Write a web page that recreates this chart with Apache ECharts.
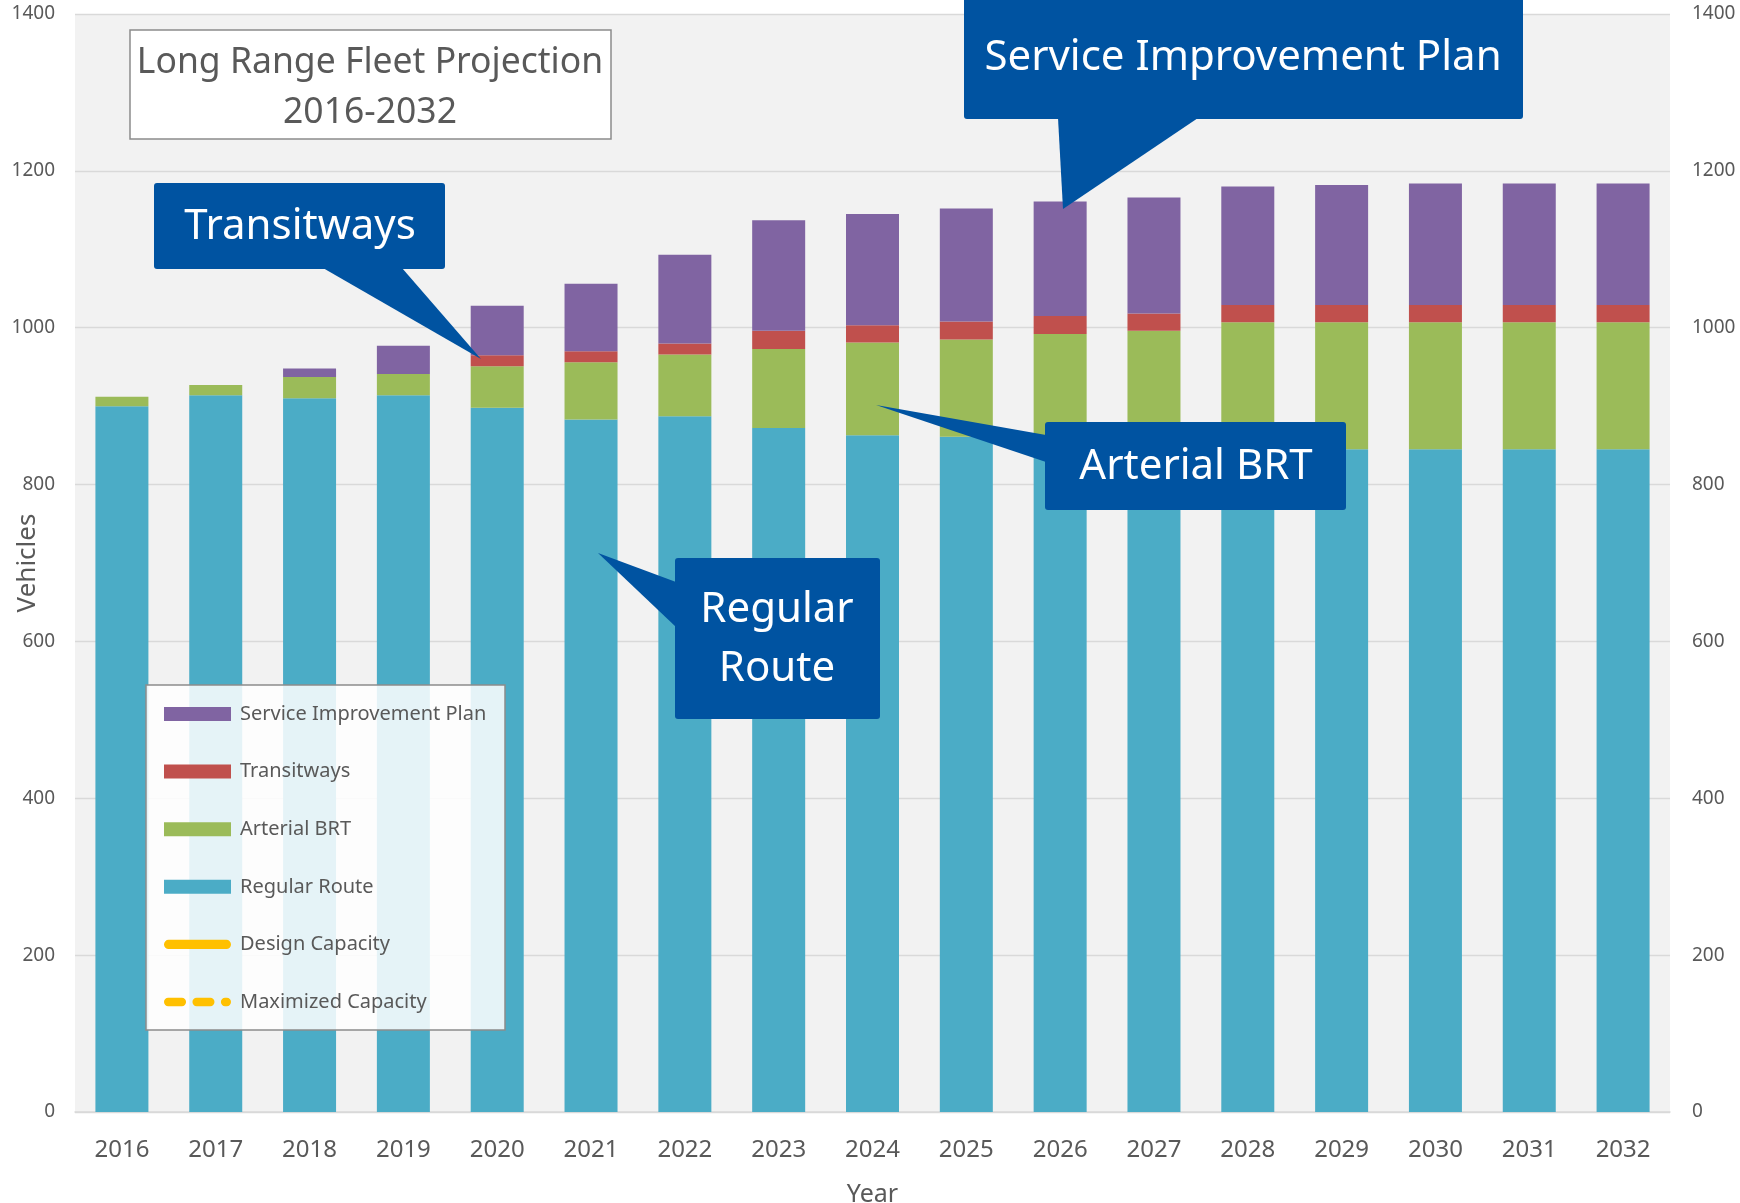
<!DOCTYPE html>
<html>
<head>
<meta charset="utf-8">
<script src="https://cdn.jsdelivr.net/npm/echarts@6/dist/echarts.min.js"></script>
<style>
  html, body { margin: 0; padding: 0; background: #fff; }
  #chart { width: 1740px; height: 1203px; }
</style>
</head>
<body>
<div id="chart"></div>
<script>
var years = ['2016','2017','2018','2019','2020','2021','2022','2023','2024','2025','2026','2027','2028','2029','2030','2031','2032'];
var regularRoute = [900, 914, 910, 914, 898, 883, 887, 872, 863, 861, 855, 850, 845, 845, 845, 845, 845];
var arterialBrt  = [12, 13, 27, 27, 53, 73, 79, 101, 118, 124, 137, 146, 162, 162, 162, 162, 162];
var transitways  = [0, 0, 0, 0, 14, 14, 14, 23, 22, 23, 23, 22, 22, 22, 22, 22, 22];
var sipVehicles  = [0, 0, 11, 36, 63, 86, 113, 141, 142, 144, 146, 148, 151, 153, 155, 155, 155];
var yTicks = [0, 1400, 200];

var color = ['#4bacc6', '#9bbb59', '#c0504d', '#8064a2', '#ffc000'];
var callBlue = '#0053a1';
var txt = '#595959';
var font = 'Noto Sans';

// legend icons for the two capacity lines (zero-size moves keep the 67x14 box)
function roundDash(a, b, y0, y1) {
    var r = (y1 - y0) / 2;
    return 'M' + (a + r) + ',' + y0 + ' L' + (b - r) + ',' + y0 +
        ' A' + r + ',' + r + ' 0 0 1 ' + (b - r) + ',' + y1 +
        ' L' + (a + r) + ',' + y1 +
        ' A' + r + ',' + r + ' 0 0 1 ' + (a + r) + ',' + y0 + ' Z ';
}
var boxPath = 'M0,0 L0.01,0 M67,14 L66.99,14 ';
var solidIcon = 'path://' + boxPath + roundDash(-3, 70, 2, 12);
var dashIcon = 'path://' + boxPath + roundDash(-3, 21, 2.5, 11.5) + roundDash(28, 52, 2.5, 11.5) + roundDash(59, 70, 2.5, 11.5);

function plain(v) { return String(v); }

// callout box + pointer
function callout(box, ptr, lines, lineYs, cx) {
    var children = [
        { type: 'rect', z: 30, shape: { x: box[0], y: box[1], width: box[2], height: box[3], r: 3 },
          style: { fill: callBlue } },
        { type: 'polygon', z: 30, shape: { points: ptr }, style: { fill: callBlue } }
    ];
    for (var i = 0; i < lines.length; i++) {
        children.push({ type: 'text', z: 31, x: cx, y: lineYs[i],
            style: { text: lines[i], fill: '#fff', font: '42px "' + font + '"', align: 'center', verticalAlign: 'middle' } });
    }
    return { type: 'group', children: children };
}

var myChart = echarts.init(document.getElementById('chart'));
var option = {
    backgroundColor: '#fff',
    textStyle: { fontFamily: font },
    grid: {
        left: 75, right: 70, top: 14, bottom: 91,
        containLabel: false, outerBoundsMode: 'none',
        show: true, backgroundColor: '#f2f2f2', borderWidth: 0
    },
    legend: {
        orient: 'vertical',
        left: 159, top: 699,
        z: 20,
        itemWidth: 67, itemHeight: 14,
        itemGap: 37.6,
        textStyle: { fontSize: 20, color: txt, fontFamily: font, padding: [0, 0, 0, 4] },
        data: [
            { name: 'Service Improvement Plan', icon: 'rect' },
            { name: 'Transitways', icon: 'rect' },
            { name: 'Arterial BRT', icon: 'rect' },
            { name: 'Regular Route', icon: 'rect' },
            { name: 'Design Capacity', icon: solidIcon, itemStyle: { color: color[4] } },
            { name: 'Maximized Capacity', icon: dashIcon, itemStyle: { color: color[4] } }
        ]
    },
    xAxis: {
        type: 'category',
        data: years,
        axisTick: { show: false },
        axisLine: { lineStyle: { color: '#d9d9d9', width: 1.5 } },
        axisLabel: { fontSize: 24, color: txt, margin: 26 },
        name: 'Year', nameLocation: 'middle', nameGap: 70, nameMoveOverlap: false,
        nameTextStyle: { fontSize: 25, color: txt }
    },
    yAxis: [
        {
            type: 'value', min: yTicks[0], max: yTicks[1], interval: yTicks[2],
            axisLabel: { fontSize: 19, color: txt, margin: 20, formatter: plain },
            splitLine: { lineStyle: { color: '#d9d9d9', width: 1.3 } },
            name: 'Vehicles', nameLocation: 'middle', nameGap: 34, nameMoveOverlap: false,
            nameTextStyle: { fontSize: 26, color: txt }
        },
        {
            type: 'value', min: yTicks[0], max: yTicks[1], interval: yTicks[2],
            axisLabel: { fontSize: 19, color: txt, margin: 22, formatter: plain },
            splitLine: { show: false }
        }
    ],
    series: [
        { name: 'Regular Route', type: 'bar', stack: 'fleet', barWidth: 53, data: regularRoute,
          itemStyle: { color: color[0] } },
        { name: 'Arterial BRT', type: 'bar', stack: 'fleet', barWidth: 53, data: arterialBrt,
          itemStyle: { color: color[1] } },
        { name: 'Transitways', type: 'bar', stack: 'fleet', barWidth: 53, data: transitways,
          itemStyle: { color: color[2] } },
        { name: 'Service Improvement Plan', type: 'bar', stack: 'fleet', barWidth: 53, data: sipVehicles,
          itemStyle: { color: color[3] } },
        { name: 'Design Capacity', type: 'line', data: [], symbol: 'none',
          itemStyle: { color: color[4] }, lineStyle: { color: color[4], width: 10 } },
        { name: 'Maximized Capacity', type: 'line', data: [], symbol: 'none',
          itemStyle: { color: color[4] }, lineStyle: { color: color[4], width: 8, type: 'dashed' } }
    ],
    graphic: [
        // legend box
        { type: 'rect', z: 10, shape: { x: 146, y: 685, width: 359, height: 345 },
          style: { fill: 'rgba(255,255,255,0.86)', stroke: '#8c8c8c', lineWidth: 1.5 } },
        // title box
        { type: 'group', children: [
            { type: 'rect', z: 10, shape: { x: 130, y: 30, width: 481, height: 109 },
              style: { fill: '#fff', stroke: '#8c8c8c', lineWidth: 1.5 } },
            { type: 'text', z: 11, x: 370, y: 63, style: { text: 'Long Range Fleet Projection', fill: txt,
              font: '35.5px "' + font + '"', align: 'center', verticalAlign: 'middle' } },
            { type: 'text', z: 11, x: 370, y: 113, style: { text: '2016-2032', fill: txt,
              font: '35.5px "' + font + '"', align: 'center', verticalAlign: 'middle' } }
        ] },
        callout([964, -6, 559, 125], [[1058, 118], [1063, 209], [1198, 118]],
                ['Service Improvement Plan'], [58], 1243),
        callout([154, 183, 291, 86], [[323, 268], [481, 359], [402, 268]],
                ['Transitways'], [227], 300),
        callout([1045, 422, 301, 88], [[1046, 435], [876, 405], [1046, 462]],
                ['Arterial BRT'], [467], 1196),
        callout([675, 558, 205, 161], [[676, 582], [598, 553], [676, 627]],
                ['Regular', 'Route'], [610, 669], 777)
    ]
};
myChart.setOption(option);
</script>
</body>
</html>
